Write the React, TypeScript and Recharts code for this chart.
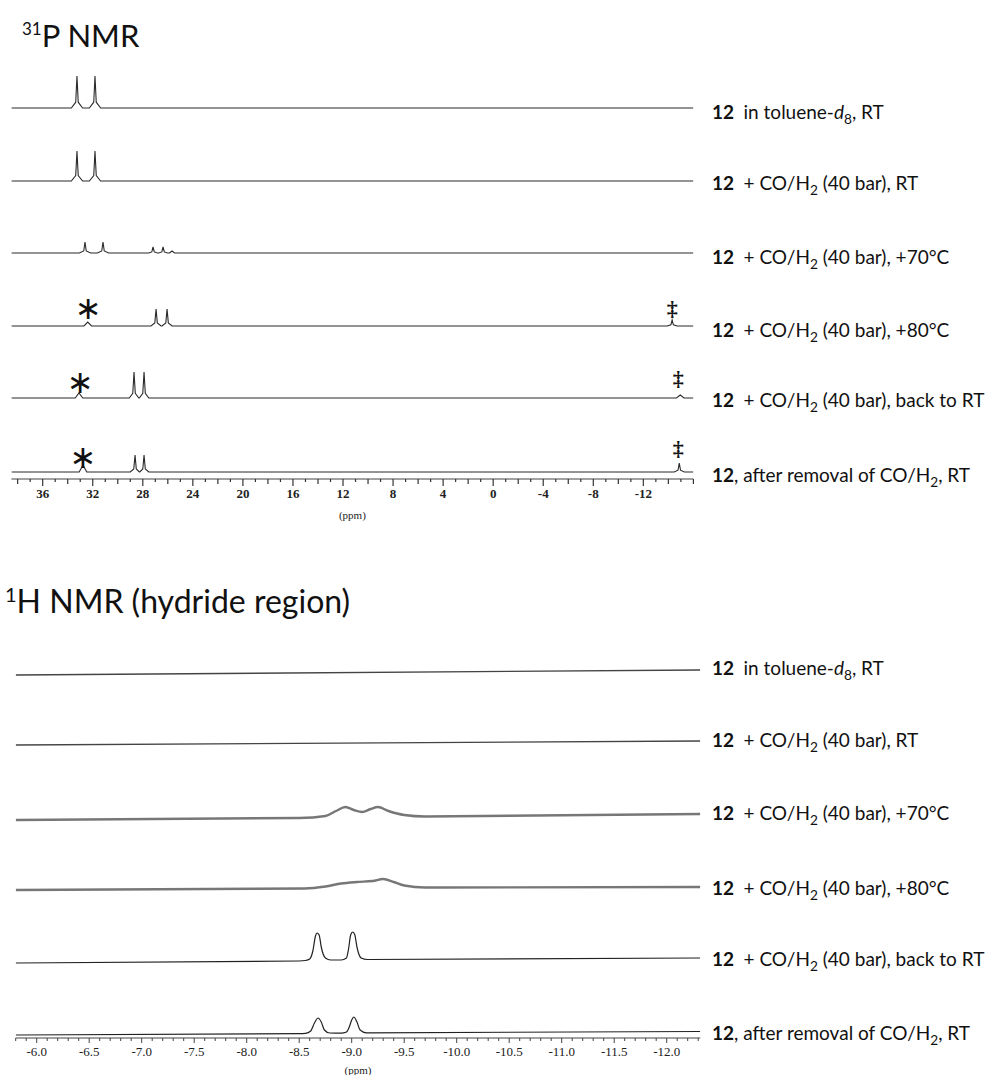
import { LineChart, Line, XAxis, YAxis, ReferenceDot } from "recharts";

type Pt = [number, number];

// ---- 31P NMR: [ppm, intensity above baseline (px)] ----
const P_ROW1: Pt[] = [[38.5, 0], [33.71, 0], [33.36, 5.8], [33.26, 32], [33.16, 5.8], [32.81, 0], [32.27, 0], [31.92, 5.8], [31.82, 32], [31.72, 5.8], [31.37, 0], [-16, 0]];
const P_ROW2: Pt[] = [[38.5, 0], [33.71, 0], [33.36, 5.4], [33.26, 30], [33.16, 5.4], [32.81, 0], [32.27, 0], [31.92, 5.4], [31.82, 30], [31.72, 5.4], [31.37, 0], [-16, 0]];
const P_ROW3: Pt[] = [[38.5, 0], [33.07, 0], [32.72, 2], [32.62, 11], [32.52, 2], [32.17, 0], [31.63, 0], [31.28, 2], [31.18, 11], [31.08, 2], [30.73, 0], [27.53, 0], [27.28, 1.1], [27.18, 6], [27.08, 1.1], [26.83, 0], [26.73, 0], [26.48, 1.1], [26.38, 6], [26.28, 1.1], [26.03, 0], [25.86, 0], [25.66, 2], [25.46, 0], [-16, 0]];
const P_ROW4: Pt[] = [[38.5, 0], [32.7, 0], [32.4, 4], [32.1, 0], [27.34, 0], [27.04, 3.1], [26.94, 17], [26.84, 3.1], [26.54, 0], [26.46, 0], [26.16, 3.1], [26.06, 17], [25.96, 3.1], [25.66, 0], [-13.9, 0], [-14.2, 1.2], [-14.3, 6], [-14.4, 1.2], [-14.7, 0], [-16, 0]];
const P_ROW5: Pt[] = [[38.5, 0], [33.4, 0], [33.1, 5], [32.8, 0], [29.08, 0], [28.8, 4.7], [28.7, 26], [28.6, 4.7], [28.32, 0], [28.28, 0], [28.0, 4.7], [27.9, 26], [27.8, 4.7], [27.52, 0], [-14.65, 0], [-14.95, 3], [-15.25, 0], [-16, 0]];
const P_ROW6: Pt[] = [[38.5, 0], [33.08, 0], [32.78, 7], [32.48, 0], [29.0, 0], [28.72, 3.1], [28.62, 17], [28.52, 3.1], [28.28, 0], [28.24, 0], [28.0, 3.1], [27.9, 17], [27.8, 3.1], [27.52, 0], [-14.47, 0], [-14.77, 1.8], [-14.87, 9], [-14.97, 1.8], [-15.27, 0], [-16, 0]];
const P_ROWS = [P_ROW1, P_ROW2, P_ROW3, P_ROW4, P_ROW5, P_ROW6];
const P_TICK_LABELS = [36, 32, 28, 24, 20, 16, 12, 8, 4, 0, -4, -8, -12];
// annotation marks: ppm, row index, height above baseline
const P_MARKS = [
  { ppm: 32.37, row: 3, h: 15, mark: "∗" },
  { ppm: -14.3, row: 3, h: 18, mark: "‡" },
  { ppm: 33.0, row: 4, h: 13, mark: "∗" },
  { ppm: -14.78, row: 4, h: 20, mark: "‡" },
  { ppm: 32.78, row: 5, h: 12, mark: "∗" },
  { ppm: -14.78, row: 5, h: 24, mark: "‡" },
];

// ---- 1H NMR hydride region ----
const H_ROW1: Pt[] = [[-5.8, 0], [-12.32, 5]];
const H_ROW2: Pt[] = [[-5.8, 0], [-12.32, 4]];
const H_ROW3: Pt[] = [[-5.8, 0], [-8.5, 2], [-8.75, 4], [-8.85, 9], [-8.94, 13], [-9.02, 10], [-9.1, 8], [-9.18, 11], [-9.25, 13], [-9.35, 9], [-9.5, 5], [-9.7, 3.5], [-12.32, 6]];
const H_ROW4: Pt[] = [[-5.8, 0], [-8.55, 1.5], [-8.75, 3.5], [-8.9, 6.5], [-9.05, 8], [-9.2, 9], [-9.3, 11], [-9.4, 8], [-9.5, 4.5], [-9.7, 2.5], [-12.32, 3]];
const H_ROW5: Pt[] = [[-5.8, 0], [-8.5, 2], [-8.56, 2.5], [-8.6, 4], [-8.63, 12], [-8.655, 27], [-8.67, 30], [-8.69, 28], [-8.71, 16], [-8.75, 5], [-8.8, 3], [-8.9, 3], [-8.95, 5], [-8.97, 14], [-8.99, 28], [-9.01, 31], [-9.03, 28], [-9.05, 16], [-9.09, 5], [-9.15, 3.5], [-12.32, 5]];
const H_ROW6: Pt[] = [[-5.8, 0], [-8.5, 1.3], [-8.56, 1.6], [-8.61, 4], [-8.645, 12], [-8.68, 17], [-8.71, 13], [-8.74, 5], [-8.79, 2], [-8.9, 1.8], [-8.95, 3], [-8.98, 9], [-9.0, 15], [-9.02, 18], [-9.05, 13], [-9.08, 5], [-9.14, 2.2], [-12.32, 3.5]];
const H_ROWS = [H_ROW1, H_ROW2, H_ROW3, H_ROW4, H_ROW5, H_ROW6];
const H_TICK_LABELS = [-6.0, -6.5, -7.0, -7.5, -8.0, -8.5, -9.0, -9.5, -10.0, -10.5, -11.0, -11.5, -12.0];

function Sub({ children }: { children: any }) {
  return <span style={{ fontSize: "0.72em", verticalAlign: "-0.35em", lineHeight: 0 }}>{children}</span>;
}

const ROW_LABELS = [
  <><b>12</b>{"\u2002"}in toluene-<i>d</i><Sub>8</Sub>, RT</>,
  <><b>12</b>{"\u2002"}+ CO/H<Sub>2</Sub> (40 bar), RT</>,
  <><b>12</b>{"\u2002"}+ CO/H<Sub>2</Sub> (40 bar), +70°C</>,
  <><b>12</b>{"\u2002"}+ CO/H<Sub>2</Sub> (40 bar), +80°C</>,
  <><b>12</b>{"\u2002"}+ CO/H<Sub>2</Sub> (40 bar), back to RT</>,
  <><b>12</b>, after removal of CO/H<Sub>2</Sub>, RT</>,
];

// layout (page px)
const P_TOP = 40, P_AXIS = 479, P_DMIN = -4;
const P_BASE_Y = [108, 181, 253, 326, 398, 472];
const P_LABEL_Y = [112, 183, 257, 330, 400, 475];
const H_TOP = 630, H_AXIS = 1038, H_DMIN = -4;
const H_BASE_Y = [675, 745, 820, 890, 963, 1035];
const H_LABEL_Y = [668, 740, 813, 888, 959, 1033];
const LABEL_X = 712;
const FONT = "Lato, 'Open Sans', sans-serif";

const pBase = P_BASE_Y.map((y) => P_DMIN + (P_AXIS - y));
const hBase = H_BASE_Y.map((y) => H_DMIN + (H_AXIS - y));

const pTicks: number[] = [];
for (let v = -16; v <= 38; v++) pTicks.push(v);
const hTicks: number[] = [];
for (let i = -123; i <= -58; i++) hTicks.push(i / 10);

function PTick(props: any) {
  const { x, y, payload } = props;
  const v = payload.value;
  const lab = P_TICK_LABELS.includes(v);
  return (
    <g>
      <line x1={x} x2={x} y1={y} y2={y + (lab ? 7 : v % 2 === 0 ? 5 : 3)} stroke="#333" strokeWidth={1.2} />
      {lab && (
        <text x={x} y={y + 19} textAnchor="middle" fontFamily="'Liberation Serif', serif" fontWeight="bold" fontSize={13} fill="#222">
          {v}
        </text>
      )}
    </g>
  );
}

function HTick(props: any) {
  const { x, y, payload } = props;
  const v = Math.round(payload.value * 10) / 10;
  const lab = H_TICK_LABELS.some((l) => Math.abs(l - v) < 1e-6);
  return (
    <g>
      <line x1={x} x2={x} y1={y} y2={y + (lab ? 5 : 3)} stroke="#444" strokeWidth={1} />
      {lab && (
        <text x={x} y={y + 18} textAnchor="middle" fontFamily="'Liberation Serif', serif" fontSize={13} fill="#222">
          {v.toFixed(1)}
        </text>
      )}
    </g>
  );
}

const markShape = (mark: string) => (p: any) => (
  <text
    x={p.cx}
    y={mark === "∗" ? p.cy - 3 : p.cy}
    textAnchor="middle"
    dominantBaseline="central"
    fontFamily={mark === "∗" ? "'DejaVu Sans', sans-serif" : "'Liberation Serif', serif"}
    fontSize={mark === "∗" ? 32 : 22}
    fontWeight={mark === "∗" ? "normal" : "bold"}
    fill="#111"
  >
    {mark}
  </text>
);

export default function App() {
  const hStroke = ["#444", "#444", "#777", "#777", "#222", "#222"];
  const hWidth = [1.4, 1.4, 2.4, 2.4, 1.2, 1.2];
  return (
    <div style={{ position: "absolute", left: 0, top: 0, width: 989, height: 1075, background: "#fff", fontFamily: FONT, color: "#111" }}>
      <div style={{ position: "absolute", left: 22, top: 16, fontSize: 31, whiteSpace: "nowrap" }}>
        <span style={{ fontSize: 17, verticalAlign: "12px" }}>31</span>P NMR
      </div>
      <div style={{ position: "absolute", left: 5, top: 581, fontSize: 32, whiteSpace: "nowrap" }}>
        <span style={{ fontSize: 20, verticalAlign: "11px" }}>1</span>H NMR (hydride region)
      </div>

      <div style={{ position: "absolute", left: 0, top: P_TOP }}>
        <LineChart width={700} height={P_AXIS - P_TOP + 45} margin={{ top: 0, right: 6.6, left: 11.4, bottom: 0 }}>
          <XAxis
            type="number"
            dataKey="x"
            domain={[-16, 38.5]}
            reversed
            allowDataOverflow
            ticks={pTicks}
            interval={0}
            tickSize={0}
            tickMargin={0}
            tickLine={false}
            tick={PTick}
            axisLine={{ stroke: "#444", strokeWidth: 1.2 }}
            height={45}
            label={{ value: "(ppm)", position: "insideBottom", offset: 5, style: { fontFamily: "'Liberation Serif', serif", fontSize: 11, fill: "#222" } }}
          />
          <YAxis hide type="number" domain={[P_DMIN, P_DMIN + (P_AXIS - P_TOP)]} allowDataOverflow />
          {P_ROWS.map((row, i) => (
            <Line
              key={i}
              data={row.map(([x, v]) => ({ x, y: v + pBase[i] }))}
              dataKey="y"
              type="linear"
              stroke="#2a2a2a"
              strokeWidth={1.1}
              dot={false}
              activeDot={false}
              isAnimationActive={false}
            />
          ))}
          {P_MARKS.map((m, i) => (
            <ReferenceDot key={i} x={m.ppm} y={pBase[m.row] + m.h} r={0} shape={markShape(m.mark)} />
          ))}
        </LineChart>
      </div>

      <div style={{ position: "absolute", left: 0, top: H_TOP }}>
        <LineChart width={705} height={H_AXIS - H_TOP + 38} margin={{ top: 0, right: 4.7, left: 15.7, bottom: 0 }}>
          <XAxis
            type="number"
            dataKey="x"
            domain={[-12.32, -5.8]}
            reversed
            allowDataOverflow
            ticks={hTicks}
            interval={0}
            tickSize={0}
            tickMargin={0}
            tickLine={false}
            tick={HTick}
            axisLine={{ stroke: "#444", strokeWidth: 1 }}
            height={38}
            label={{ value: "(ppm)", position: "insideBottom", offset: 2, style: { fontFamily: "'Liberation Serif', serif", fontSize: 11, fill: "#222" } }}
          />
          <YAxis hide type="number" domain={[H_DMIN, H_DMIN + (H_AXIS - H_TOP)]} allowDataOverflow />
          {H_ROWS.map((row, i) => (
            <Line
              key={i}
              data={row.map(([x, v]) => ({ x, y: v + hBase[i] }))}
              dataKey="y"
              type="monotone"
              stroke={hStroke[i]}
              strokeWidth={hWidth[i]}
              dot={false}
              activeDot={false}
              isAnimationActive={false}
            />
          ))}
        </LineChart>
      </div>

      {ROW_LABELS.map((lab, i) => (
        <div key={"p" + i} style={{ position: "absolute", left: LABEL_X, top: P_LABEL_Y[i] - 12, fontSize: 19, lineHeight: "24px", whiteSpace: "nowrap" }}>
          {lab}
        </div>
      ))}
      {ROW_LABELS.map((lab, i) => (
        <div key={"h" + i} style={{ position: "absolute", left: LABEL_X, top: H_LABEL_Y[i] - 12, fontSize: 19, lineHeight: "24px", whiteSpace: "nowrap" }}>
          {lab}
        </div>
      ))}
    </div>
  );
}
